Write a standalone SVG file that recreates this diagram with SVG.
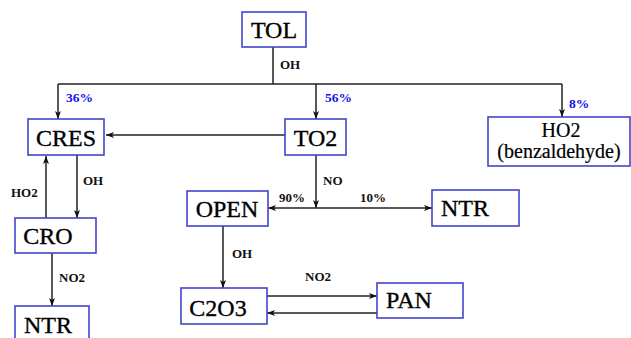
<svg xmlns="http://www.w3.org/2000/svg" width="631" height="338" viewBox="0 0 631 338" font-family="Liberation Serif, serif">
<defs>
<marker id="ah" viewBox="0 0 8 6" refX="8" refY="3" markerWidth="8" markerHeight="6" markerUnits="userSpaceOnUse" orient="auto">
<path d="M0,0 L8,3 L0,6 L2,3 Z" fill="#111"/>
</marker>
</defs>
<style>
.box{fill:#fff;stroke:#4444cc;stroke-width:1.6}
.big{font-size:24px;fill:#000;stroke:#000;stroke-width:0.35}
.mid{font-size:20px;fill:#000;stroke:#000;stroke-width:0.2}
.lbl{font-size:13px;font-weight:bold;fill:#111}
.pct{font-size:13.5px;font-weight:bold;fill:#1010f0}
.ln{fill:none;stroke:#222;stroke-width:1.5}
.ar{fill:none;stroke:#222;stroke-width:1.5;marker-end:url(#ah)}
</style>
<rect width="631" height="338" fill="#fff"/>
<g id="connectors">
<path class="ln" d="M273,47 V84"/>
<path class="ln" d="M58,84 H562"/>
<path class="ar" d="M58,84 V119"/>
<path class="ar" d="M316,84 V119"/>
<path class="ar" d="M562,84 V117"/>
<path class="ar" d="M285,135 H106"/>
<path class="ar" d="M46,218 V156"/>
<path class="ar" d="M77,155 V218"/>
<path class="ar" d="M52,253 V306"/>
<path class="ar" d="M316,155 V208"/>
<path class="ar" d="M316,208 H268"/>
<path class="ar" d="M316,208 H432"/>
<path class="ar" d="M223,226 V288"/>
<path class="ar" d="M267,296 H377"/>
<path class="ar" d="M377,313 H267"/>
<text class="lbl" x="280" y="69">OH</text>
<text class="pct" x="66" y="102">36%</text>
<text class="pct" x="325" y="102">56%</text>
<text class="pct" x="569" y="108">8%</text>
<text class="lbl" x="11" y="197">HO2</text>
<text class="lbl" x="83" y="185">OH</text>
<text class="lbl" x="323" y="185">NO</text>
<text class="lbl" x="279" y="202">90%</text>
<text class="lbl" x="360" y="202">10%</text>
<text class="lbl" x="59" y="282">NO2</text>
<text class="lbl" x="232" y="258">OH</text>
<text class="lbl" x="305" y="281">NO2</text>
</g>
<g id="TOL"><rect class="box" x="242" y="12" width="64" height="35"/><text class="big" x="274" y="38" text-anchor="middle">TOL</text></g>
<g id="CRES"><rect class="box" x="28" y="119" width="76" height="36"/><text class="big" x="66" y="146" text-anchor="middle">CRES</text></g>
<g id="TO2"><rect class="box" x="285" y="119" width="61" height="36"/><text class="big" x="315.5" y="146" text-anchor="middle">TO2</text></g>
<g id="HO2"><rect class="box" x="488" y="117" width="142" height="49"/><text class="mid" x="561" y="137" text-anchor="middle">HO2</text><text class="mid" x="559" y="158" text-anchor="middle">(benzaldehyde)</text></g>
<g id="CRO"><rect class="box" x="15" y="218" width="81" height="35"/><text class="big" x="48" y="244" text-anchor="middle">CRO</text></g>
<g id="NTR1"><rect class="box" x="15" y="306" width="74" height="40"/><text class="big" x="48" y="333" text-anchor="middle">NTR</text></g>
<g id="OPEN"><rect class="box" x="187" y="191" width="81" height="35"/><text class="big" x="227" y="217" text-anchor="middle">OPEN</text></g>
<g id="NTR2"><rect class="box" x="432" y="190" width="87" height="36"/><text class="big" x="465" y="216" text-anchor="middle">NTR</text></g>
<g id="C2O3"><rect class="box" x="181" y="288" width="86" height="36"/><text class="big" x="218" y="316" text-anchor="middle">C2O3</text></g>
<g id="PAN"><rect class="box" x="377" y="283" width="86" height="35"/><text class="big" x="409" y="308" text-anchor="middle">PAN</text></g>
</svg>
